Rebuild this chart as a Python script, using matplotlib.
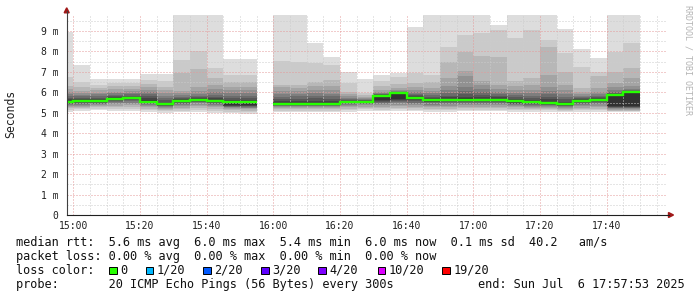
import matplotlib
matplotlib.use("Agg")
import matplotlib.pyplot as plt
import numpy as np
from matplotlib.patches import Polygon, Rectangle
from matplotlib.lines import Line2D

W, H, DPI = 697, 297, 100

# ---------------- data (milliseconds) ----------------
bin_start = ["14:55", "15:00", "15:05", "15:10", "15:15", "15:20", "15:25", "15:30",
             "15:35", "15:40", "15:45", "15:50", "15:55", "16:00", "16:05", "16:10",
             "16:15", "16:20", "16:25", "16:30", "16:35", "16:40", "16:45", "16:50",
             "16:55", "17:00", "17:05", "17:10", "17:15", "17:20", "17:25", "17:30",
             "17:35", "17:40", "17:45"]

median_ms = [5.53, 5.57, 5.56, 5.68, 5.71, 5.54, 5.41, 5.58, 5.63, 5.58, 5.53, 5.53,
             None, 5.42, 5.42, 5.43, 5.43, 5.52, 5.55, 5.82, 5.95, 5.72, 5.63, 5.63,
             5.63, 5.63, 5.63, 5.57, 5.55, 5.47, 5.42, 5.58, 5.63, 5.88, 6.01]

# 20 sorted ping times per 5-minute step (None = no data)
pings_ms = [
    [5.05, 5.15, 5.22, 5.28, 5.33, 5.38, 5.42, 5.45, 5.48, 5.50, 5.58, 5.65, 5.72, 5.80, 5.90, 6.00, 6.15, 6.30, 6.75, 8.96],
    [5.10, 5.18, 5.24, 5.30, 5.35, 5.40, 5.44, 5.48, 5.51, 5.54, 5.61, 5.66, 5.73, 5.80, 5.87, 5.95, 6.05, 6.25, 6.52, 7.35],
    [5.12, 5.20, 5.26, 5.31, 5.36, 5.41, 5.45, 5.48, 5.51, 5.53, 5.60, 5.67, 5.74, 5.82, 5.90, 5.98, 6.11, 6.20, 6.35, 6.63],
    [5.10, 5.20, 5.28, 5.35, 5.42, 5.48, 5.54, 5.59, 5.63, 5.66, 5.71, 5.75, 5.80, 5.87, 5.95, 6.03, 6.15, 6.30, 6.47, 6.63],
    [5.10, 5.20, 5.30, 5.37, 5.44, 5.50, 5.56, 5.61, 5.65, 5.68, 5.74, 5.78, 5.83, 5.90, 5.97, 6.05, 6.15, 6.30, 6.45, 6.63],
    [5.05, 5.12, 5.20, 5.27, 5.33, 5.38, 5.42, 5.46, 5.49, 5.52, 5.60, 5.70, 5.80, 5.90, 6.00, 6.10, 6.27, 6.40, 6.60, 6.88],
    [5.00, 5.08, 5.15, 5.20, 5.25, 5.29, 5.32, 5.35, 5.37, 5.39, 5.45, 5.50, 5.60, 5.70, 5.80, 5.95, 6.10, 6.26, 6.55, 6.90],
    [5.02, 5.10, 5.18, 5.25, 5.32, 5.38, 5.43, 5.47, 5.51, 5.54, 5.62, 5.67, 5.72, 5.78, 5.85, 5.95, 6.05, 6.95, 7.58, 10.0],
    [5.05, 5.15, 5.25, 5.33, 5.40, 5.46, 5.51, 5.55, 5.58, 5.60, 5.67, 5.71, 5.76, 5.83, 5.92, 6.05, 6.24, 7.15, 8.00, 10.0],
    [5.00, 5.10, 5.18, 5.26, 5.33, 5.39, 5.44, 5.49, 5.53, 5.56, 5.63, 5.70, 5.78, 5.88, 6.00, 6.15, 6.36, 6.68, 7.17, 10.0],
    [4.97, 5.05, 5.12, 5.18, 5.22, 5.26, 5.29, 5.32, 5.35, 5.40, 5.58, 5.64, 5.72, 5.82, 5.95, 6.10, 6.27, 6.52, 6.85, 7.61],
    [4.95, 5.03, 5.10, 5.16, 5.21, 5.25, 5.28, 5.31, 5.34, 5.40, 5.58, 5.64, 5.72, 5.82, 5.95, 6.10, 6.27, 6.52, 6.85, 7.61],
    None,
    [5.03, 5.10, 5.17, 5.23, 5.28, 5.32, 5.35, 5.38, 5.41, 5.43, 5.49, 5.56, 5.66, 5.78, 5.92, 6.08, 6.25, 6.36, 7.52, 10.0],
    [5.03, 5.10, 5.17, 5.23, 5.28, 5.32, 5.35, 5.38, 5.41, 5.43, 5.50, 5.58, 5.68, 5.80, 5.93, 6.08, 6.22, 6.36, 7.50, 10.0],
    [5.03, 5.10, 5.17, 5.23, 5.28, 5.32, 5.35, 5.38, 5.40, 5.42, 5.50, 5.58, 5.70, 5.82, 5.95, 6.10, 6.29, 6.52, 7.42, 8.43],
    [5.03, 5.10, 5.17, 5.23, 5.28, 5.32, 5.35, 5.38, 5.40, 5.42, 5.50, 5.57, 5.68, 5.80, 5.93, 6.10, 6.30, 6.60, 7.33, 7.74],
    [5.05, 5.13, 5.20, 5.27, 5.33, 5.38, 5.42, 5.46, 5.49, 5.50, 5.54, 5.57, 5.61, 5.66, 5.72, 5.80, 5.90, 6.03, 6.44, 7.01],
    [5.10, 5.17, 5.24, 5.30, 5.36, 5.41, 5.45, 5.48, 5.51, 5.53, 5.57, 5.59, 5.61, 5.64, 5.68, 5.72, 5.78, 5.85, 5.95, 6.65],
    [5.08, 5.15, 5.22, 5.30, 5.37, 5.43, 5.48, 5.53, 5.57, 5.62, 5.86, 5.88, 5.90, 5.93, 5.96, 6.00, 6.12, 6.30, 6.57, 6.85],
    [5.10, 5.17, 5.24, 5.32, 5.40, 5.47, 5.53, 5.58, 5.63, 5.68, 5.97, 5.98, 6.00, 6.02, 6.05, 6.10, 6.20, 6.40, 6.73, 6.96],
    [5.08, 5.15, 5.22, 5.30, 5.37, 5.44, 5.50, 5.56, 5.62, 5.67, 5.76, 5.80, 5.85, 5.92, 6.00, 6.10, 6.25, 6.47, 6.93, 9.21],
    [5.05, 5.12, 5.20, 5.27, 5.34, 5.40, 5.46, 5.51, 5.55, 5.59, 5.67, 5.71, 5.77, 5.85, 5.95, 6.05, 6.20, 6.52, 6.85, 10.0],
    [5.05, 5.12, 5.20, 5.28, 5.35, 5.42, 5.48, 5.53, 5.57, 5.60, 5.68, 5.75, 5.84, 5.95, 6.10, 6.30, 6.68, 7.50, 8.23, 10.0],
    [5.08, 5.15, 5.22, 5.30, 5.37, 5.43, 5.49, 5.54, 5.58, 5.61, 5.70, 5.78, 5.90, 6.08, 6.27, 6.78, 7.05, 7.96, 8.78, 10.0],
    [5.08, 5.15, 5.22, 5.30, 5.37, 5.43, 5.49, 5.54, 5.58, 5.61, 5.69, 5.77, 5.87, 6.00, 6.15, 6.36, 6.55, 7.78, 8.92, 10.0],
    [5.08, 5.15, 5.22, 5.30, 5.37, 5.43, 5.49, 5.54, 5.58, 5.61, 5.69, 5.75, 5.82, 5.90, 6.00, 6.15, 6.36, 7.74, 9.05, 9.29],
    [5.05, 5.12, 5.19, 5.26, 5.32, 5.37, 5.41, 5.45, 5.48, 5.52, 5.62, 5.68, 5.75, 5.85, 5.98, 6.12, 6.30, 6.55, 8.65, 10.0],
    [5.05, 5.12, 5.18, 5.24, 5.30, 5.35, 5.39, 5.43, 5.46, 5.50, 5.59, 5.64, 5.72, 5.82, 5.95, 6.10, 6.35, 6.70, 9.05, 10.0],
    [5.05, 5.12, 5.18, 5.24, 5.29, 5.33, 5.37, 5.40, 5.43, 5.45, 5.55, 5.65, 5.78, 5.90, 6.05, 6.27, 6.85, 8.23, 8.54, 10.0],
    [5.02, 5.08, 5.14, 5.19, 5.24, 5.28, 5.32, 5.35, 5.38, 5.40, 5.48, 5.55, 5.65, 5.78, 5.92, 6.10, 6.36, 7.01, 7.91, 9.08],
    [5.05, 5.12, 5.18, 5.25, 5.31, 5.37, 5.42, 5.47, 5.51, 5.55, 5.61, 5.65, 5.70, 5.75, 5.82, 5.90, 6.00, 6.20, 7.25, 8.10],
    [5.05, 5.12, 5.20, 5.28, 5.35, 5.42, 5.48, 5.53, 5.57, 5.60, 5.66, 5.70, 5.75, 5.82, 5.90, 6.00, 6.20, 6.80, 6.98, 7.68],
    [5.02, 5.07, 5.11, 5.15, 5.18, 5.21, 5.24, 5.27, 5.30, 5.35, 5.90, 5.93, 5.97, 6.02, 6.10, 6.25, 6.44, 7.01, 7.99, 10.0],
    [5.02, 5.07, 5.11, 5.15, 5.18, 5.21, 5.24, 5.27, 5.30, 5.35, 6.03, 6.05, 6.08, 6.12, 6.18, 6.30, 6.68, 7.17, 8.40, 10.0],
]

step_min = 5
x_labels = ["15:00", "15:20", "15:40", "16:00", "16:20", "16:40", "17:00", "17:20", "17:40"]
y_labels = ["0", "1 m", "2 m", "3 m", "4 m", "5 m", "6 m", "7 m", "8 m", "9 m"]

loss_labels = ["0", "1/20", "2/20", "3/20", "4/20", "10/20", "19/20"]
loss_colors = ["#26ff00", "#00b8ff", "#0059ff", "#5e00ff", "#7e00ff", "#dd00ff", "#ff0000"]

legend_lines = [
    "median rtt:  5.6 ms avg  6.0 ms max  5.4 ms min  6.0 ms now  0.1 ms sd  40.2   am/s",
    "packet loss: 0.00 % avg  0.00 % max  0.00 % min  0.00 % now",
]
probe_text = "probe:       20 ICMP Echo Pings (56 Bytes) every 300s"
end_text = "end: Sun Jul  6 17:57:53 2025"

# ---------------- helpers ----------------
def tmin(s):
    h, m = s.split(":")
    return int(h) * 60 + int(m) - 15 * 60


def fx(px):
    return px / W


def fy(py):
    return 1 - py / H


MONO = "DejaVu Sans Mono"

fig = plt.figure(figsize=(W / DPI, H / DPI), dpi=DPI)
fig.patch.set_facecolor("white")

ax_l, ax_r, ax_t, ax_b = 66.7, 666.7, 15.0, 215.0
ax = fig.add_axes([fx(ax_l), fy(ax_b), (ax_r - ax_l) / W, (ax_b - ax_t) / H])
ax.set_xlim(-2.0, 178.0)
ax.set_ylim(0, 200 / 20.45)
ax.set_facecolor("white")

xs = np.array([tmin(s) for s in bin_start], dtype=float)

# smoke: layer k spans ping k .. ping (21-k), darker towards the middle
half = 10
for k in range(half):
    g = int(190 / half * (half - (k + 1))) + 50
    col = "#%02x%02x%02x" % (g, g, g)
    xb, bot, hgt = [], [], []
    for x0, p in zip(xs, pings_ms):
        if p is None:
            continue
        xb.append(x0)
        bot.append(p[k])
        hgt.append(p[19 - k] - p[k])
    ax.bar(xb, hgt, bottom=bot, width=step_min, align="edge", color=col,
           linewidth=0, antialiased=False, zorder=1)

# median line (step)
med = np.array([np.nan if v is None else v for v in median_ms], dtype=float)
xe = np.append(xs, xs[-1] + step_min)
ye = np.append(med, med[-1])
ax.step(xe, ye, where="post", color=loss_colors[0], lw=1.7, zorder=4,
        solid_capstyle="butt", solid_joinstyle="miter")

# grid
major_c, minor_c = "#e49a9a", "#cccccc"
dots = (0, (1, 2))
for m in range(0, 180, 5):
    if m % 20 == 0:
        continue
    ax.axvline(m, color=minor_c, lw=0.72, ls=dots, zorder=3)
for v in np.arange(0.5, 9.8, 1.0):
    ax.axhline(v, color=minor_c, lw=0.72, ls=dots, zorder=3)
for m in range(0, 180, 20):
    ax.axvline(m, color=major_c, lw=0.72, ls=dots, zorder=3)
for v in range(1, 10):
    ax.axhline(v, color=major_c, lw=0.72, ls=dots, zorder=3)

# ticks
ax.set_xticks([tmin(s) for s in x_labels])
ax.set_xticklabels(x_labels, fontfamily=MONO, fontsize=7)
ax.set_yticks(range(len(y_labels)))
ax.set_yticklabels(y_labels, fontfamily=MONO, fontsize=7)
ax.tick_params(axis="both", length=0, colors="#202020")
ax.tick_params(axis="x", pad=4)
ax.tick_params(axis="y", pad=6)
for s in ax.spines.values():
    s.set_visible(False)

# axis lines and arrows
fig.add_artist(Line2D([fx(ax_l), fx(ax_l)], [fy(ax_b), fy(11)], color="#404040", lw=0.8))
fig.add_artist(Line2D([fx(ax_l), fx(669)], [fy(ax_b), fy(ax_b)], color="#202020", lw=0.8))
arrow_c = "#a01818"
fig.add_artist(Polygon([[fx(64.2), fy(12.8)], [fx(69.2), fy(12.8)], [fx(66.7), fy(7.8)]],
                       closed=True, color=arrow_c, transform=fig.transFigure))
fig.add_artist(Polygon([[fx(668.5), fy(212.5)], [fx(668.5), fy(217.5)], [fx(673.5), fy(215)]],
                       closed=True, color=arrow_c, transform=fig.transFigure))

# y label
fig.text(fx(11), fy(114), "Seconds", rotation=90, ha="center", va="center",
         fontfamily=MONO, fontsize=8.3, color="#202020")

# watermark
fig.text(fx(688), fy(60), "RRDTOOL / TOBI OETIKER", rotation=270, ha="center", va="center",
         fontfamily=MONO, fontsize=6, color="#b4b4b4")

# legend
FS = 8.55
base = [245.6, 259.8, 273.8, 287.8]
for line, yb in zip(legend_lines, base[:2]):
    fig.text(fx(16), fy(yb), line, ha="left", va="baseline", fontfamily=MONO,
             fontsize=FS, color="#101010")
fig.text(fx(16), fy(base[2]), "loss color:", ha="left", va="baseline", fontfamily=MONO,
         fontsize=FS, color="#101010")
box_x = [109.3, 145.7, 203.0, 261.0, 318.3, 377.7, 442.3]
lab_x = [120.7, 156.7, 214.0, 272.0, 329.0, 388.3, 453.3]
for bx, lx, lab, col in zip(box_x, lab_x, loss_labels, loss_colors):
    fig.add_artist(Rectangle((fx(bx), fy(base[2] + 0.3)), 7.5 / W, 7.5 / H,
                             facecolor=col, edgecolor="black", lw=0.7,
                             transform=fig.transFigure))
    fig.text(fx(lx), fy(base[2]), lab, ha="left", va="baseline", fontfamily=MONO,
             fontsize=FS, color="#101010")
fig.text(fx(16), fy(base[3]), probe_text, ha="left", va="baseline", fontfamily=MONO,
         fontsize=FS, color="#101010")
fig.text(fx(478), fy(base[3]), end_text, ha="left", va="baseline", fontfamily=MONO,
         fontsize=FS, color="#101010")

fig.savefig("out.png", dpi=DPI, facecolor="white")
